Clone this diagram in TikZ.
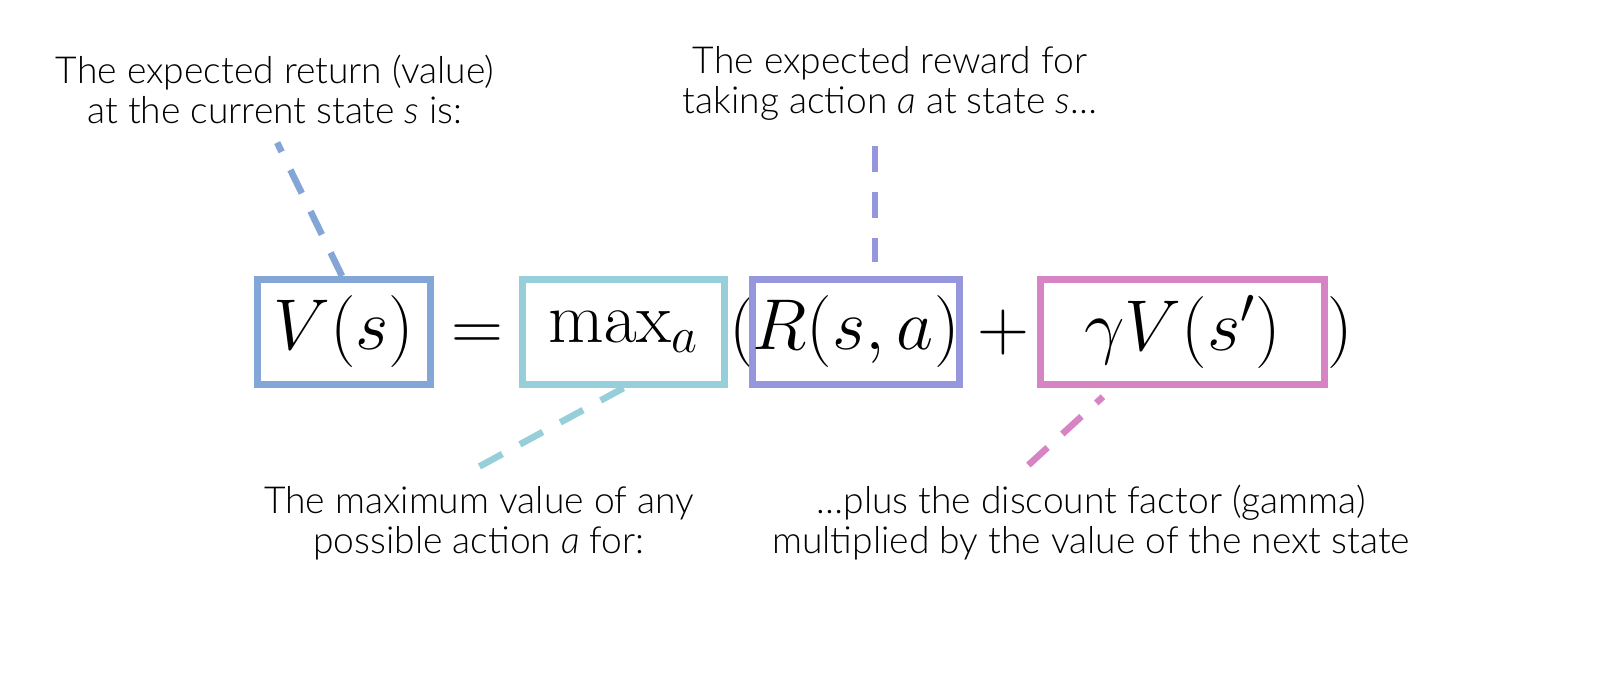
\RequirePackage{fix-cm}
\documentclass[tikz,border=0pt]{standalone}
\usepackage{amsmath}
\usepackage[no-math]{fontspec}
\setmainfont{Lato Light}
\usepackage{tikz}
\definecolor{vblue}{RGB}{132,166,214}
\definecolor{mcyan}{RGB}{150,206,218}
\definecolor{rpurple}{RGB}{150,150,220}
\definecolor{gpink}{RGB}{214,132,196}

\begin{document}
\begin{tikzpicture}[x=0.5pt,y=-0.5pt,
	lbl/.style={align=center,inner sep=0pt,font=\fontsize{18.6}{20}\selectfont},
	term/.style={draw,line width=3.5pt,inner sep=0pt,minimum height=52.5pt,font=\fontsize{36}{40}\selectfont},
	sym/.style={inner sep=0pt,anchor=base,font=\fontsize{36}{40}\selectfont},
	lead/.style={dash pattern=on 13pt off 10pt,line width=3.3pt}]
					\useasboundingbox (0,0) rectangle (1600,684);
					
					% the equation
					\node[term,draw=vblue,minimum width=86.5pt] (vs) at (344,332) {$V(s)$};
					\node[sym] (eq) at (477,350) {$=$};
					\node[term,draw=mcyan,minimum width=101pt] (mx) at (623.5,332) {$\max_a$};
					\node[sym] (lp) at (742,350) {$($};
					\node[term,draw=rpurple,minimum width=103.5pt] (rw) at (856,332) {$R(s,a)$};
					\node[sym] (pl) at (1003,350) {$+$};
					\node[term,draw=gpink,minimum width=142pt] (gv) at (1182.5,332) {$\gamma V(s')$};
					\node[sym] (rp) at (1340,350) {$)$};
					
					% the notes
					\node[lbl] (val) at (275,89) {The expected return (value)\\at the current state \textit{s} is:};
					\node[lbl] (rew) at (890,83.5) {The expected reward for\\taking action \textit{a} at state \textit{s}…};
					\node[lbl] (best) at (479,523.5) {The maximum value of any\\possible action \textit{a} for:};
					\node[lbl] (disc) at (1091,522.5) {…plus the discount factor (gamma)\\multiplied by the value of the next state};
					
					\draw[lead,vblue,shorten >=10.5pt] ([xshift=-1pt]vs.north) -- ([xshift=-3.5pt]val.south);
					\draw[lead,rpurple,shorten <=12.5pt,shorten >=7pt] ([xshift=-7.5pt]rew.south) -- ([xshift=9.5pt]rw.north);
					\draw[lead,mcyan,shorten >=19.5pt] (mx.south) -- ([xshift=-18pt]best.north);
					\draw[lead,gpink,shorten >=6.5pt,shorten <=14.5pt] ([xshift=-42pt]disc.north) -- ([xshift=-35pt]gv.south);
				\end{tikzpicture}
\end{document}
